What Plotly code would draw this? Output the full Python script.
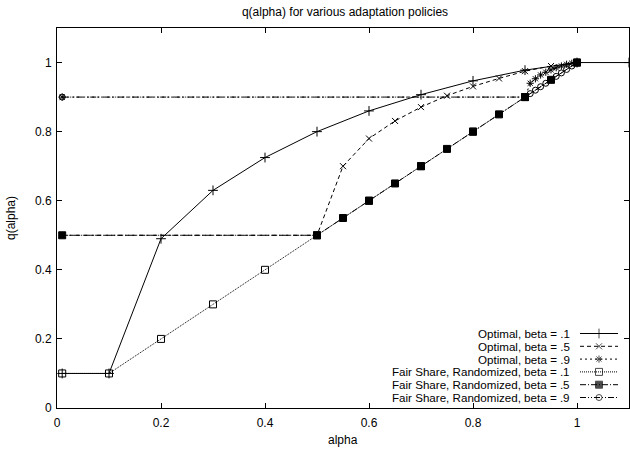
import plotly.graph_objects as go

# ---- data ----
opt_b1_x = [0.01, 0.1, 0.2, 0.3, 0.4, 0.5, 0.6, 0.7, 0.8, 0.9, 1.0, 1.1]
opt_b1_y = [0.1, 0.1, 0.49, 0.63, 0.725, 0.80, 0.86, 0.907, 0.947, 0.978, 1.0, 1.0]

opt_b5_x = [0.01, 0.5, 0.55, 0.6, 0.65, 0.7, 0.75, 0.8, 0.85, 0.9, 0.95, 1.0]
opt_b5_y = [0.5, 0.5, 0.70, 0.78, 0.831, 0.871, 0.904, 0.931, 0.954, 0.975, 0.99, 1.0]

opt_b9_x = [0.01, 0.9, 0.91, 0.92, 0.93, 0.94, 0.95, 0.96, 0.97, 0.98, 0.99, 1.0]
opt_b9_y = [0.9, 0.9, 0.94, 0.953, 0.964, 0.972, 0.979, 0.985, 0.99, 0.995, 0.998, 1.0]

fair_b1_x = [0.01, 0.1, 0.2, 0.3, 0.4, 0.5, 0.6, 0.7, 0.8, 0.9, 1.0]
fair_b1_y = [0.1, 0.1, 0.2, 0.3, 0.4, 0.5, 0.6, 0.7, 0.8, 0.9, 1.0]

fair_b5_x = [0.01, 0.5, 0.55, 0.6, 0.65, 0.7, 0.75, 0.8, 0.85, 0.9, 0.95, 1.0]
fair_b5_y = [0.5, 0.5, 0.55, 0.6, 0.65, 0.7, 0.75, 0.8, 0.85, 0.9, 0.95, 1.0]

fair_b9_x = [0.01, 0.9, 0.91, 0.92, 0.93, 0.94, 0.95, 0.96, 0.97, 0.98, 0.99, 1.0]
fair_b9_y = [0.9, 0.9, 0.91, 0.92, 0.93, 0.94, 0.95, 0.96, 0.97, 0.98, 0.99, 1.0]

series_names = [
    "Optimal, beta = .1",
    "Optimal, beta = .5",
    "Optimal, beta = .9",
    "Fair Share, Randomized, beta = .1",
    "Fair Share, Randomized, beta = .5",
    "Fair Share, Randomized, beta = .9",
]

tick_vals = [0, 0.2, 0.4, 0.6, 0.8, 1]
tick_text = ["0", "0.2", "0.4", "0.6", "0.8", "1"]

# ---- styles ----
FONT = "Liberation Sans, Arial, Helvetica, sans-serif"
FS = 12
LEG_FS = 11.6
styles = [
    dict(dash="solid", symbol="cross-thin", size=7),
    dict(dash="4px,3px", symbol="x-thin", size=6),
    dict(dash="2px,3px", symbol="asterisk", size=6),
    dict(dash="1px,1px", symbol="square-open", size=7),
    dict(dash="6px,2px,1px,2px", symbol="square", size=7),
    dict(dash="6px,2px,1px,2px,1px,2px", symbol="circle-open", size=6),
]
data = [
    (opt_b1_x, opt_b1_y),
    (opt_b5_x, opt_b5_y),
    (opt_b9_x, opt_b9_y),
    (fair_b1_x, fair_b1_y),
    (fair_b5_x, fair_b5_y),
    (fair_b9_x, fair_b9_y),
]

fig = go.Figure()
for (xs, ys), st, name in zip(data, styles, series_names):
    fig.add_trace(go.Scatter(
        x=xs, y=ys, mode="lines+markers", name=name, showlegend=False,
        line=dict(color="black", width=1, dash=st["dash"]),
        marker=dict(symbol=st["symbol"], size=st["size"], color="black",
                    line=dict(color="black", width=1)),
        xaxis="x", yaxis="y",
    ))

# ---- geometry in window pixels ----
W, H = 630, 453
PL, PR, PT, PB = 57, 629, 28, 408          # plot area in window pixels
ML, MT, MR, MB = PL, PT, W - PR, H - PB
PW, PH = PR - PL, PB - PT

row0_px = 333.5
row_step = 12.8
text_right_px = 572
samp_x0_px, samp_x1_px = 580, 618

def fx(px):
    return (px - PL) / PW

def fy(py):
    return (PB - py) / PH

annotations = []
for i, (st, name) in enumerate(zip(styles, series_names)):
    yy = fy(row0_px + i * row_step)
    x0, x1 = fx(samp_x0_px), fx(samp_x1_px)
    xm = (x0 + x1) / 2
    fig.add_trace(go.Scatter(
        x=[x0, xm, x1], y=[yy, yy, yy], mode="lines+markers", showlegend=False,
        hoverinfo="skip",
        line=dict(color="black", width=1, dash=st["dash"]),
        marker=dict(symbol=st["symbol"], size=[0, st["size"], 0], color="black",
                    line=dict(color="black", width=1)),
        xaxis="x2", yaxis="y2",
    ))
    annotations.append(dict(
        x=fx(text_right_px), y=yy, xref="paper", yref="paper",
        xanchor="right", yanchor="middle", showarrow=False, text=name,
        font=dict(family=FONT, size=LEG_FS, color="black"),
    ))

# axis titles as annotations for exact placement
annotations.append(dict(text="alpha", x=fx(343), xref="paper", y=fy(440),
                        yref="paper", xanchor="center", yanchor="middle", showarrow=False,
                        font=dict(family=FONT, size=FS, color="black")))
annotations.append(dict(text="q(alpha)", x=fx(11), xref="paper", y=fy(218),
                        yref="paper", xanchor="center", yanchor="middle", showarrow=False,
                        textangle=-90, font=dict(family=FONT, size=FS, color="black")))

axis_common = dict(
    showline=True, linecolor="black", linewidth=1, mirror="ticks",
    ticks="inside", ticklen=5, tickcolor="black", tickwidth=1,
    showgrid=False, zeroline=False, automargin=False,
    tickfont=dict(family=FONT, size=FS, color="black"),
    tickmode="array", tickvals=tick_vals, ticktext=tick_text,
)

fig.update_layout(
    width=W, height=H,
    margin=dict(l=ML, r=MR, t=MT, b=MB, autoexpand=False),
    plot_bgcolor="white", paper_bgcolor="white",
    font=dict(family=FONT, size=FS, color="black"),
    title=dict(text="q(alpha) for various adaptation policies", x=345 / W,
               xref="container", y=1 - 12 / H, yref="container",
               yanchor="middle", xanchor="center",
               font=dict(family=FONT, size=FS, color="black")),
    xaxis=dict(range=[0, 1.1], ticklabelstandoff=4, **axis_common),
    yaxis=dict(range=[0, 1.1], ticklabelstandoff=2, **axis_common),
    xaxis2=dict(range=[0, 1], overlaying="x", visible=False, fixedrange=True),
    yaxis2=dict(range=[0, 1], overlaying="y", visible=False, fixedrange=True),
    annotations=annotations,
    showlegend=False,
)

fig.write_html("out.html", config={"displayModeBar": False},
               post_script="document.body.style.margin='0';")
